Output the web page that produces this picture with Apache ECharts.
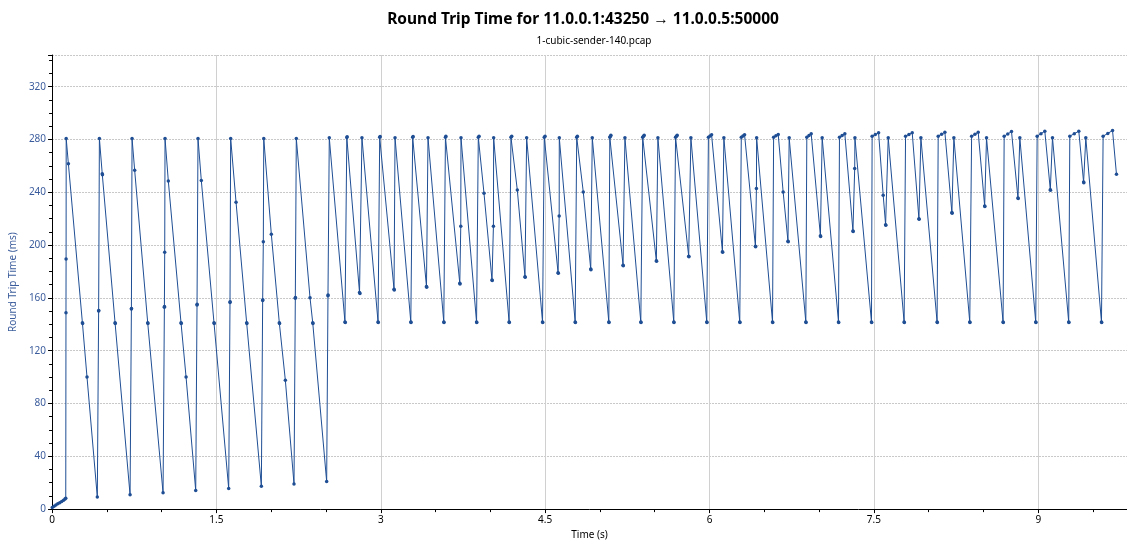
<!DOCTYPE html>
<html><head><meta charset="utf-8">
<script src="https://cdn.jsdelivr.net/npm/echarts@6/dist/echarts.min.js"></script>
<style>html,body{margin:0;padding:0;background:#fff}#c{width:1127px;height:545px}</style>
</head><body><div id="c"></div>
<script>
const titleText = 'Round Trip Time for 11.0.0.1:43250 \u2192 11.0.0.5:50000';
const subTitleText = '1-cubic-sender-140.pcap';
const xName = 'Time (s)';
const yName = 'Round Trip Time (ms)';

// start-up phase (slow start)
const startTime = [0.002,0.018,0.035,0.052,0.070,0.088,0.105,0.118,0.125];
const startRtt  = [1.3,2.2,3.1,4.0,4.9,5.8,6.7,7.6,8.3];

// first phase: deep sawtooth
const phase1Time = [
 0.127,0.128,0.129,0.149,0.277,0.279,0.319,0.413,
 0.425,0.426,0.432,0.458,0.460,0.575,0.577,0.712,
 0.724,0.725,0.730,0.754,0.873,0.875,1.013,
 1.025,1.026,1.028,1.031,1.061,1.177,1.179,1.223,1.311,
 1.323,1.324,1.332,1.362,1.478,1.480,1.612,
 1.624,1.625,1.630,1.679,1.776,1.778,1.910,
 1.922,1.923,1.928,1.932,2.001,2.074,2.076,2.129,2.208,
 2.220,2.221,2.229,2.354,2.379,2.381,2.506,
 2.518,2.519,2.530
];
const phase1Rtt = [
 148.7,189.4,280.8,261.7,141.1,140.6,100.0,9.1,
 150.0,150.5,280.8,254.0,253.3,141.1,140.6,10.8,
 151.5,152.0,280.8,256.6,141.1,140.6,12.3,
 153.0,153.5,194.5,280.8,248.5,141.1,140.6,100.0,14.1,
 154.7,155.2,280.8,249.0,141.1,140.6,15.6,
 156.5,157.0,280.8,232.5,141.1,140.6,17.4,
 158.0,158.5,202.5,280.8,208.3,141.1,140.6,97.6,19.1,
 159.8,160.3,280.8,160.2,141.1,140.6,20.9,
 161.7,162.2,281.3
];

// second phase: double sawtooth
const phase2Time = [
 2.673,2.676,2.690,2.693,2.806,2.810,2.828,
 2.975,2.977,2.990,2.994,3.121,3.123,3.130,
 3.274,3.276,3.291,3.295,3.417,3.419,3.431,
 3.575,3.577,3.590,3.594,3.721,3.723,3.730,3.732,
 3.874,3.876,3.890,3.897,3.942,4.015,4.017,4.028,4.030,
 4.171,4.173,4.188,4.195,4.246,4.316,4.318,4.331,
 4.476,4.478,4.492,4.499,4.618,4.620,4.628,4.629,
 4.774,4.776,4.788,4.794,4.848,4.916,4.918,4.930,
 5.081,5.083,5.090,5.095,5.100,5.211,5.213,5.228,
 5.373,5.375,5.390,5.397,5.404,5.515,5.517,5.529,
 5.674,5.676,5.690,5.698,5.705,5.810,5.812,5.830,
 5.975,5.977,5.990,6.005,6.019,6.118,6.120,6.131,
 6.276,6.278,6.290,6.305,6.320,6.419,6.421,6.428,6.430,
 6.575,6.577,6.585,6.606,6.627,6.672,6.716,6.718,6.727,
 6.879,6.881,6.888,6.908,6.928,7.012,7.014,7.028,
 7.177,7.179,7.186,7.210,7.235,7.309,7.311,7.325,7.327,
 7.478,7.480,7.484,7.513,7.543,7.585,7.607,7.609,7.631,
 7.776,7.778,7.789,7.820,7.850,7.911,7.913,7.929,
 8.077,8.079,8.087,8.118,8.148,8.212,8.214,8.230,
 8.375,8.377,8.392,8.422,8.452,8.511,8.513,8.528,
 8.679,8.681,8.689,8.722,8.756,8.815,8.817,8.832,
 8.977,8.979,8.990,9.025,9.060,9.110,9.112,9.130,
 9.278,9.280,9.288,9.329,9.370,9.414,9.416,9.434,
 9.577,9.579,9.592,9.635,9.678,9.714
];
const phase2Rtt = [
 141.7,141.4,281.5,282.0,164.0,163.4,281.3,
 141.7,141.4,281.6,282.2,166.5,166.0,281.3,
 141.7,141.4,281.6,282.2,168.6,168.1,281.3,
 141.7,141.4,281.7,282.5,171.0,170.6,214.3,281.3,
 141.7,141.4,281.7,282.5,239.2,173.5,173.1,214.3,281.3,
 141.7,141.4,281.7,282.5,241.7,176.0,175.6,281.3,
 141.7,141.4,281.7,282.5,179.0,178.6,222.1,281.3,
 141.7,141.4,281.7,282.5,240.2,181.8,181.4,281.3,
 141.7,141.4,281.7,282.4,283.2,184.8,184.4,281.3,
 141.7,141.4,281.7,282.4,283.2,188.1,187.7,281.3,
 141.7,141.4,281.7,282.4,283.2,191.6,191.2,281.3,
 141.7,141.4,281.7,282.6,283.5,194.9,194.5,281.3,
 141.7,141.4,281.7,282.6,283.5,199.1,198.7,242.8,281.3,
 141.7,141.4,281.7,282.8,283.8,240.2,202.9,202.5,281.3,
 141.7,141.4,281.7,283.0,284.3,207.0,206.6,281.3,
 141.7,141.4,281.7,283.0,284.3,210.7,210.3,258.1,281.3,
 141.7,141.4,282.5,283.8,285.1,237.7,215.5,215.1,281.3,
 141.7,141.4,282.5,283.8,285.1,220.0,219.6,281.3,
 141.7,141.4,282.5,284.0,285.5,224.6,224.2,281.3,
 141.7,141.4,282.5,284.0,285.5,229.6,229.2,281.3,
 141.7,141.4,282.5,284.2,286.0,235.6,235.2,281.3,
 141.7,141.4,282.5,284.4,286.3,241.9,241.5,281.3,
 141.7,141.4,282.5,284.4,286.3,247.7,247.3,281.3,
 141.7,141.4,282.5,284.6,286.8,253.6
];

const xMin = 0, xMax = 9.81, xStep = 1.5;
const yMin = 0, yMax = 344, yStep = 40;

const times = startTime.concat(phase1Time, phase2Time);
const rtts = startRtt.concat(phase1Rtt, phase2Rtt);
const points = times.map((t, i) => [t, rtts[i]]);

const lineColor = '#1f4e94';
const chart = echarts.init(document.getElementById('c'), null, {renderer: 'canvas'});
chart.setOption({
  animation: false,
  backgroundColor: '#ffffff',
  textStyle: {fontFamily: 'Noto Sans'},
  title: [
    {text: titleText, left: 578, top: 7, textAlign: 'center',
     textStyle: {fontSize: 15.5, fontWeight: 'bold', color: '#000', fontFamily: 'Noto Sans'}},
    {text: subTitleText, left: 589, top: 31, textAlign: 'center',
     textStyle: {fontSize: 10, fontWeight: 'normal', color: '#000', fontFamily: 'Noto Sans'}}
  ],
  grid: {left: 52, right: 0, top: 55, bottom: 34, containLabel: false},
  xAxis: {
    type: 'value', min: xMin, max: xMax, interval: xStep,
    name: xName, nameLocation: 'middle', nameGap: 20,
    nameTextStyle: {fontSize: 10, color: '#000', fontFamily: 'Noto Sans'},
    axisLine: {show: true, onZero: false, lineStyle: {color: '#000', width: 1}},
    axisTick: {show: true, length: 4, lineStyle: {color: '#000'}},
    minorTick: {show: true, splitNumber: 3, length: 3, lineStyle: {color: '#000'}},
    axisLabel: {fontSize: 10, color: '#000', margin: 6, showMaxLabel: false, fontFamily: 'Noto Sans'},
    splitLine: {show: true, lineStyle: {color: '#d0d0d0', width: 1}}
  },
  yAxis: {
    type: 'value', min: yMin, max: yMax, interval: yStep,
    name: yName, nameLocation: 'middle', nameGap: 31,
    nameTextStyle: {fontSize: 10, color: '#3b5c9c', fontFamily: 'Noto Sans'},
    axisLine: {show: true, lineStyle: {color: '#000', width: 1}},
    axisTick: {show: true, length: 4, lineStyle: {color: '#000'}},
    minorTick: {show: true, splitNumber: 4, length: 3, lineStyle: {color: '#000'}},
    axisLabel: {fontSize: 10, color: '#3b5c9c', margin: 6, showMaxLabel: false, fontFamily: 'Noto Sans'},
    splitLine: {show: true, lineStyle: {color: '#c8c8c8', width: 1, type: [2, 1]}}
  },
  series: [{
    type: 'line',
    data: points,
    symbol: 'circle',
    symbolSize: 3.5,
    showSymbol: true,
    showAllSymbol: true,
    clip: true,
    lineStyle: {color: lineColor, width: 1},
    itemStyle: {color: lineColor, borderWidth: 0}
  }]
});
</script>
</body></html>
